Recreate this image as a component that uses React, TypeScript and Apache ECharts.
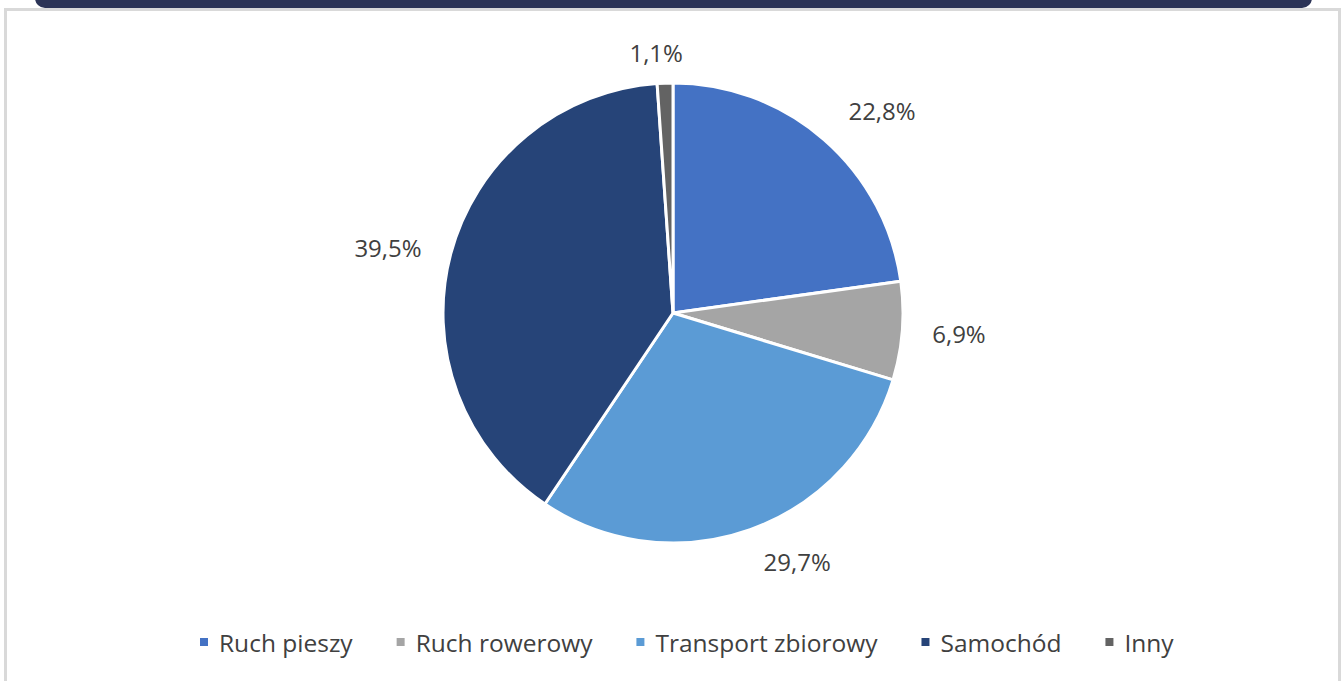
import React, { useEffect, useRef } from "react";
import * as echarts from "echarts";

const categories = ["Ruch pieszy", "Ruch rowerowy", "Transport zbiorowy", "Samochód", "Inny"];
const shares = [22.8, 6.9, 29.7, 39.5, 1.1];
const colors = ["#4472C4", "#A5A5A5", "#5B9BD5", "#264478", "#636363"];

export default function App() {
  const ref = useRef<HTMLDivElement>(null);
  useEffect(() => {
    if (!ref.current) return;
    const chart = echarts.init(ref.current, undefined, { renderer: "svg" });
    const labelShift: Record<number, any> = {
      0: { dy: -10, dx: 3 },
      2: { dy: 8 },
      4: { align: "center", dy: -6, dx: -3 },
    };
    chart.setOption({
      animation: false,
      color: colors,
      legend: {
        data: categories,
        left: 193,
        top: 623,
        icon: "rect",
        itemWidth: 10,
        itemHeight: 10,
        itemGap: 42,
        textStyle: {
          fontFamily: "Open Sans",
          fontSize: 24.5,
          lineHeight: 28,
          color: "#404040",
          padding: [0, 0, 0, 5],
        },
      },
      series: [
        {
          type: "pie",
          center: [673, 313],
          radius: 230,
          startAngle: 90,
          clockwise: true,
          avoidLabelOverlap: false,
          itemStyle: { borderColor: "#ffffff", borderWidth: 3 },
          label: {
            show: true,
            position: "outside",
            fontFamily: "Open Sans",
            fontSize: 24,
            color: "#404040",
            formatter: (p: any) => `${Number(p.value).toFixed(1).replace(".", ",")}%`,
          },
          labelLine: { show: false, length: 25, length2: 0 },
          labelLayout: (params: any) => labelShift[params.dataIndex] || {},
          emphasis: { disabled: true },
          data: categories.map((name, i) => ({ name, value: shares[i] })),
        },
      ],
    });
    return () => chart.dispose();
  }, []);

  return (
    <div
      style={{
        position: "fixed",
        left: 0,
        top: 0,
        width: 1344,
        height: 681,
        background: "#ffffff",
        overflow: "hidden",
      }}
    >
      <div
        style={{
          position: "absolute",
          left: 4,
          top: 8,
          width: 1331,
          height: 700,
          border: "3px solid #d9d9d9",
          background: "#ffffff",
        }}
      />
      <div
        style={{
          position: "absolute",
          left: 35,
          top: -12,
          width: 1277,
          height: 20,
          background: "#2c3457",
          borderRadius: 10,
        }}
      />
      <div ref={ref} style={{ position: "absolute", left: 0, top: 0, width: 1344, height: 681 }} />
    </div>
  );
}
